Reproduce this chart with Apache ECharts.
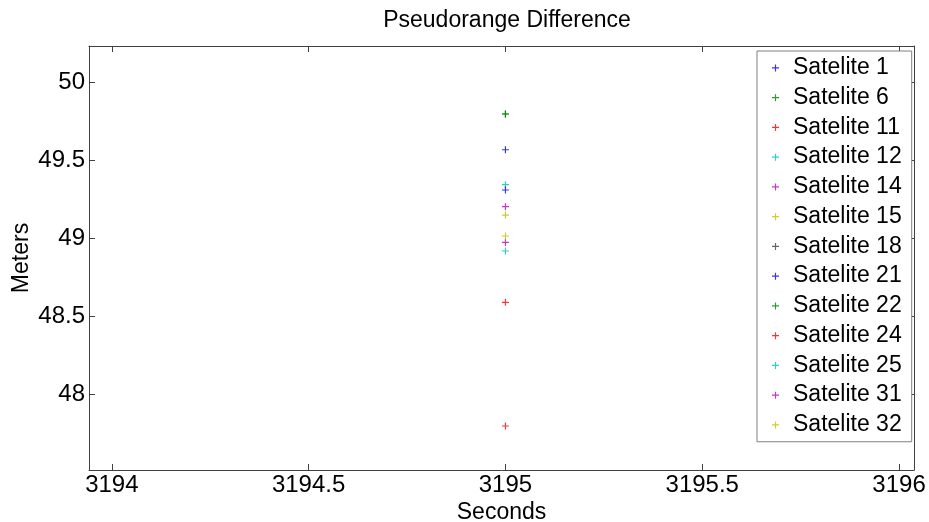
<!DOCTYPE html>
<html><head><meta charset="utf-8">
<script src="https://cdn.jsdelivr.net/npm/echarts@6/dist/echarts.min.js"></script>
<style>html,body{margin:0;padding:0;background:#fff}#c{width:929px;height:522px}</style>
</head><body><div id="c"></div>
<script>
const satellites = ['Satelite 1','Satelite 6','Satelite 11','Satelite 12','Satelite 14','Satelite 15','Satelite 18','Satelite 21','Satelite 22','Satelite 24','Satelite 25','Satelite 31','Satelite 32'];
const colors = ['#0000ff','#008000','#ff0000','#00bfbf','#bf00bf','#bfbf00','#404040','#0000ff','#008000','#ff0000','#00bfbf','#bf00bf','#bfbf00'];
const times = [3195];
const diffs = [49.566, 49.795, 48.588, 49.342, 49.201, 49.147, null, 49.308, 49.795, 47.795, 48.917, 48.972, 49.013];
const xTicks = [3194, 3194.5, 3195, 3195.5, 3196];
const yTicks = [48, 48.5, 49, 49.5, 50];

const plus = 'path://M0,2.5H6V3.5H0Z M2.5,0H3.5V6H2.5Z';
const font = 'Liberation Sans, Arial, sans-serif';
const axColor = '#404040';
const xMin = 3193.942, xMax = 3196.038, yMin = 47.513, yMax = 50.231;

const series = satellites.map((name, i) => ({
  name, type: 'scatter', symbol: plus, symbolSize: 7,
  itemStyle: {color: colors[i]},
  data: diffs[i] == null ? [] : times.map(t => [t, diffs[i]])
}));

const chart = echarts.init(document.getElementById('c'));
chart.setOption({
  animation: false,
  backgroundColor: '#fff',
  title: {text: 'Pseudorange Difference', left: 502, textAlign: 'center', top: 4, textStyle: {fontFamily: font, fontSize: 23, fontWeight: 'normal', color: '#000'}},
  grid: {left: 89, top: 46, right: 15, bottom: 52, outerBoundsMode: 'none', containLabel: false},
  legend: {
    orient: 'vertical', left: 757, top: 51, padding: [2, 10, 2, 15],
    backgroundColor: '#fff', borderColor: '#808080', borderWidth: 1,
    itemWidth: 7, itemHeight: 7, itemGap: 0,
    data: satellites.map(n => ({name: n, icon: plus})),
    textStyle: {fontFamily: font, fontSize: 23, color: '#000', lineHeight: 29.75, padding: [0, 0, 0, 9]}
  },
  xAxis: [{
    type: 'value', min: xMin, max: xMax, position: 'bottom',
    name: 'Seconds', nameLocation: 'middle', nameGap: 31, nameMoveOverlap: false,
    nameTextStyle: {fontFamily: font, fontSize: 23, color: '#000'},
    axisLine: {show: true, onZero: false, lineStyle: {color: axColor}},
    axisTick: {show: true, inside: true, length: 6, customValues: xTicks, lineStyle: {color: axColor}},
    axisLabel: {customValues: xTicks, formatter: v => String(v), fontFamily: font, fontSize: 24, color: '#000', margin: 3},
    splitLine: {show: false}
  }, {
    type: 'value', min: xMin, max: xMax, position: 'top',
    axisLine: {show: true, onZero: false, lineStyle: {color: axColor}},
    axisTick: {show: true, inside: true, length: 6, customValues: xTicks, lineStyle: {color: axColor}},
    axisLabel: {show: false}, splitLine: {show: false}
  }],
  yAxis: [{
    type: 'value', min: yMin, max: yMax, position: 'left',
    name: 'Meters', nameLocation: 'middle', nameGap: 56, nameRotate: 90, nameMoveOverlap: false,
    nameTextStyle: {fontFamily: font, fontSize: 23, color: '#000'},
    axisLine: {show: true, onZero: false, lineStyle: {color: axColor}},
    axisTick: {show: true, inside: true, length: 6, customValues: yTicks, lineStyle: {color: axColor}},
    axisLabel: {customValues: yTicks, formatter: v => String(v), fontFamily: font, fontSize: 24, color: '#000', margin: 4},
    splitLine: {show: false}
  }, {
    type: 'value', min: yMin, max: yMax, position: 'right',
    axisLine: {show: true, onZero: false, lineStyle: {color: axColor}},
    axisTick: {show: true, inside: true, length: 6, customValues: yTicks, lineStyle: {color: axColor}},
    axisLabel: {show: false}, splitLine: {show: false}
  }],
  series
});
</script></body></html>
